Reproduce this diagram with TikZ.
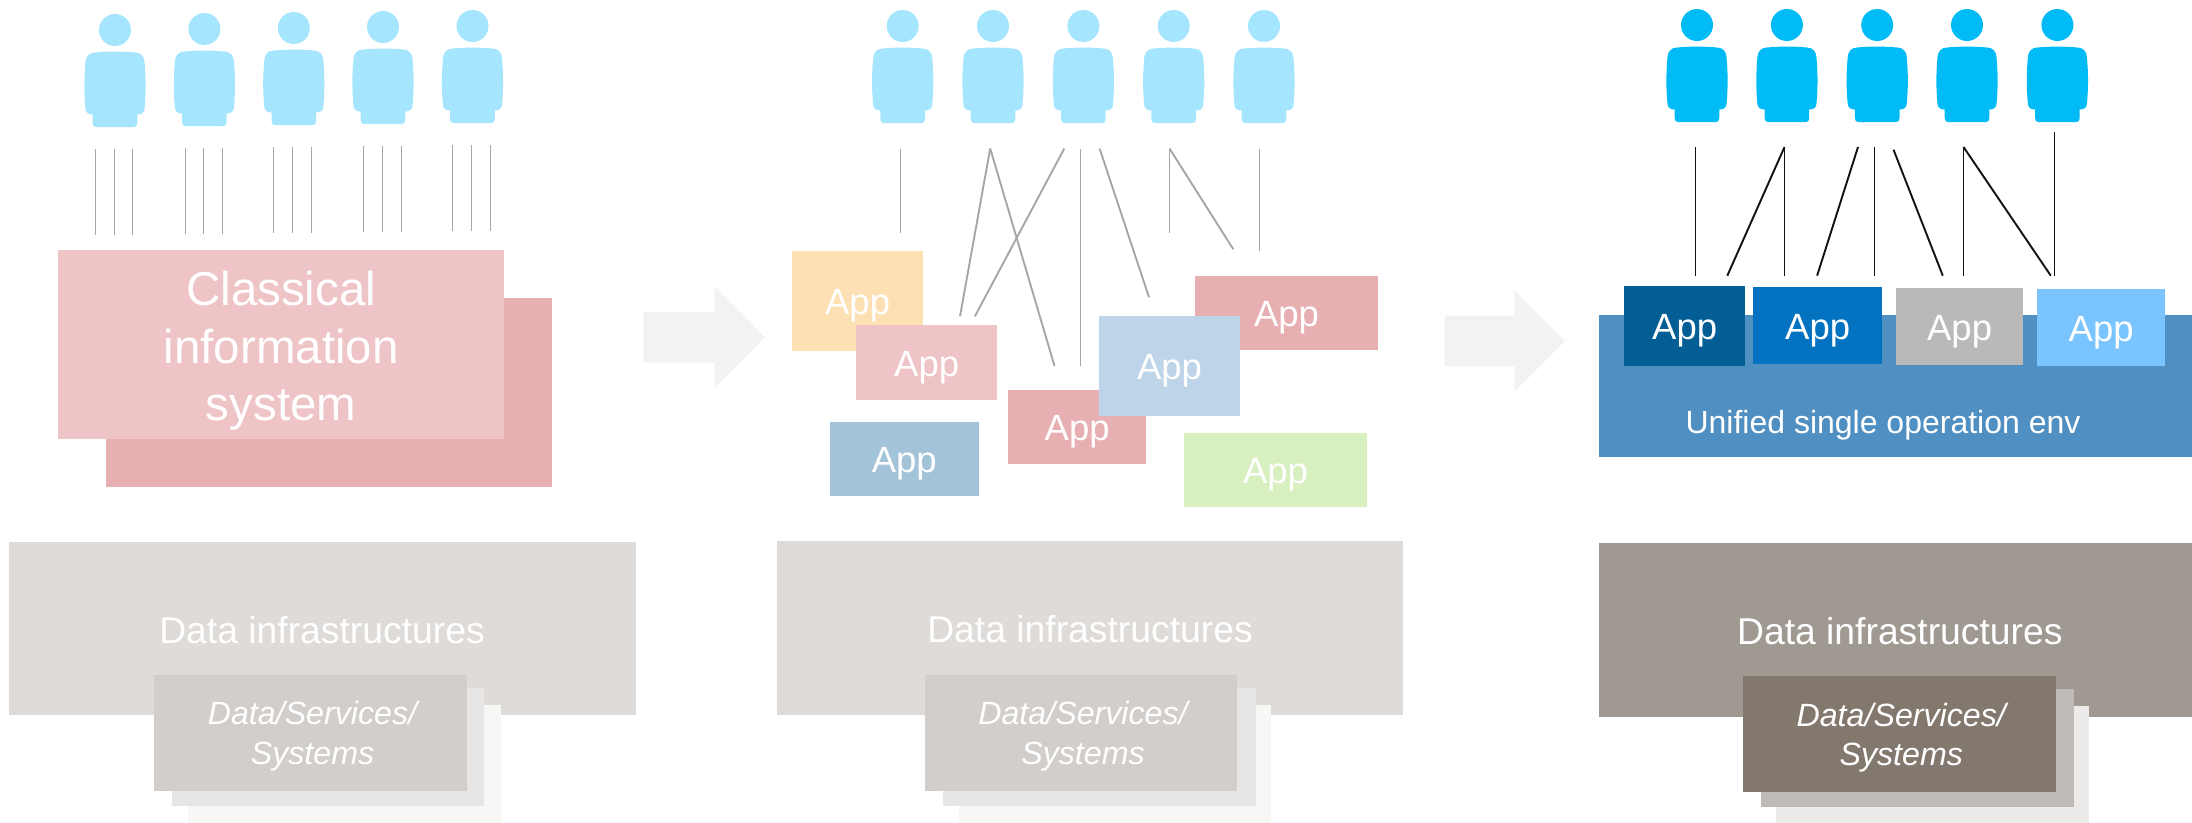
\documentclass[tikz,border=0pt]{standalone}
\usepackage{fontspec}
\setmainfont{Liberation Sans}
\usetikzlibrary{shapes,arrows,positioning,calc}

\definecolor{peoplelight}{HTML}{A5E6FE}
\definecolor{peoplefull}{HTML}{00BBF5}
\definecolor{wiregray}{HTML}{A6A6A6}
\definecolor{wireblack}{HTML}{111111}
\definecolor{pinklight}{HTML}{EEC4C6}
\definecolor{pinkdark}{HTML}{E8AFB2}
\definecolor{sandlight}{HTML}{FDE1B5}
\definecolor{bluelight}{HTML}{BED5E9}
\definecolor{tealmid}{HTML}{A3C3D8}
\definecolor{greenlight}{HTML}{D8EFC0}
\definecolor{navyapp}{HTML}{035E95}
\definecolor{blueapp}{HTML}{0272C1}
\definecolor{grayapp}{HTML}{B9B9B9}
\definecolor{skyapp}{HTML}{7AC5FF}
\definecolor{bandblue}{HTML}{4F8FC2}
\definecolor{infrapale}{HTML}{DEDBD8}
\definecolor{stackpaleA}{HTML}{D1CECB}
\definecolor{stackpaleB}{HTML}{E7E6E4}
\definecolor{stackpaleC}{HTML}{F7F7F5}
\definecolor{infrafull}{HTML}{A09991}
\definecolor{stackfullA}{HTML}{83786E}
\definecolor{stackfullB}{HTML}{BFBAB6}
\definecolor{stackfullC}{HTML}{ECEBE9}
\definecolor{arrowgray}{HTML}{F2F2F2}

\newcommand{\stacktext}{\hspace*{4pt}Data/Services/\\\hspace*{4pt}Systems}

\tikzset{
    person/.pic={
        \path[pic actions] (0,0) circle (16);
        \path[pic actions] (-20,22.5) .. controls (-8,21.3) and (8,21.3) .. (20,22.5)
            .. controls (26,22.5) and (29.3,27) .. (29.5,32)
            .. controls (31,50) and (31,62) .. (29.5,79)
            .. controls (29.3,83) and (26,84.5) .. (22.3,84.5)
            -- (22.3,93) .. controls (22.3,96) and (21,97) .. (19,97)
            -- (-19,97) .. controls (-21,97) and (-22.3,96) .. (-22.3,93)
            -- (-22.3,84.5) .. controls (-26,84.5) and (-29.3,83) .. (-29.5,79)
            .. controls (-31,62) and (-31,50) .. (-29.5,32)
            .. controls (-29.3,27) and (-26,22.5) .. (-20,22.5) -- cycle;
    }
}

\begin{document}
\begin{tikzpicture}[x=1pt, y=-1pt,
        block/.style={rectangle, anchor=north west, inner sep=0pt, outer sep=0pt, align=center, text=white},
        app/.style={block, text height=27.4pt, text depth=0pt, font=\fontsize{36.5}{36.5}\selectfont},
        stack/.style={block, text depth=0pt, font=\fontsize{32.2}{39.3}\selectfont\itshape},
        caption/.style={anchor=base, inner sep=0pt, text=white},
        wire/.style={line width=1.9pt},
        bigarrow/.style={fill=arrowgray}
    ]
        \useasboundingbox (0,0) rectangle (2192,822);

        \foreach \i/\x/\y in {1/115/30,2/204.4/29,3/293.8/28,4/383/27,5/472.5/26,
                6/902.7/26,7/993/26,8/1083.4/26,9/1173.7/26,10/1264/26}
            \pic[fill=peoplelight] (man\i) at (\x,\y) {person};
        \foreach \i/\x in {11/1697,12/1786.9,13/1877.2,14/1967,15/2057.4}
            \pic[fill=peoplefull] (man\i) at (\x,25) {person};

        \foreach \xa/\xb/\xc/\ya/\yb in {95.5/114.5/132.5/149.3/234.7,185.5/203.5/222.5/148.3/233.7,
                273.5/292.5/311.5/147.3/232.7,363.5/382.5/401.5/146.3/231.7,452.5/471.5/490.5/145.3/230.7}
            \foreach \x in {\xa,\xb,\xc} {
                \coordinate (top) at (\x,\ya);
                \coordinate (bot) at (\x,\yb);
                \draw[wire, wiregray] (top) -- (bot);
            }

        \foreach \xa/\ya/\xb/\yb in {900.5/148.5/900.5/232.7,990.2/148.5/960/316.3,990.2/148.5/1054.5/366,
                1064.3/148.5/974.9/316.3,1080.5/148.5/1080.5/366,1099.6/148.5/1149/297.3,
                1169.5/148.5/1169.5/233.3,1169.5/148.5/1233.3/249.3,1259.5/148.5/1259.5/251} {
            \coordinate (top) at (\xa,\ya);
            \coordinate (bot) at (\xb,\yb);
            \draw[wire, wiregray] (top) -- (bot);
        }

        \foreach \xa/\ya/\xb/\yb in {1695.5/147/1695.5/275.7,1784.5/147/1784.5/275.7,1784.5/147/1727.3/275.7,
                1858/147/1817.1/275.7,1874.5/147/1874.5/275.7,1893.5/149.7/1942.8/275.7,
                1963.5/147/1963.5/275.7,1963.5/147/2050.8/275.7,2054.5/131.7/2054.5/275.7} {
            \coordinate (top) at (\xa,\ya);
            \coordinate (bot) at (\xb,\yb);
            \draw[wire, wireblack] (top) -- (bot);
        }

        \node[block, fill=pinkdark, minimum width=446pt, minimum height=189pt] (sysback) at (106,297.5) {};
        \node[block, text depth=0pt, fill=pinklight, minimum width=446pt, minimum height=189pt,
            font=\fontsize{47.5}{57.5}\selectfont] (sysfront) at (58.2,250) {\rule{0pt}{37pt}Classical\\information\\system};

        \foreach \name/\xa/\ya/\xb/\yb/\col in {appa/792/251/923.2/350.7/sandlight,appb/856.2/325/997.2/400/pinklight,
                appc/1008/390/1146.4/464/pinkdark,appd/1195/276/1378/350/pinkdark,appe/1099.2/316/1239.8/415.7/bluelight,
                appf/830/422/978.6/496/tealmid,appg/1184/433/1367/507/greenlight}
            \node[app, fill=\col, minimum width={(\xb-\xa)*1pt}, minimum height={(\yb-\ya)*1pt}] (\name) at (\xa,\ya) {App};

        \node[block, fill=bandblue, minimum width=593.3pt, minimum height=142pt] (band) at (1598.7,315) {};
        \node[caption, font=\fontsize{32}{32}\selectfont] (bandtext) at (1883,433) {Unified single operation env};
        \foreach \name/\xa/\ya/\xb/\yb/\col in {apph/1624.4/286/1745/366/navyapp,appi/1753.4/287/1881.9/364/blueapp,
                appj/1895.8/288/2023.4/365/grayapp,appk/2037.3/289/2164.9/366/skyapp}
            \node[app, fill=\col, minimum width={(\xb-\xa)*1pt}, minimum height={(\yb-\ya)*1pt}] (\name) at (\xa,\ya) {App};

        \draw[draw=none, bigarrow] (643.4,312) -- (714.6,312) -- (714.6,286.7) -- (765,337.3)
            -- (714.6,387.7) -- (714.6,362.7) -- (643.4,362.7) -- cycle;
        \draw[draw=none, bigarrow] (1444.6,315.7) -- (1514.5,315.7) -- (1514.5,290.7) -- (1565.2,341)
            -- (1514.5,391.7) -- (1514.5,366.7) -- (1444.6,366.7) -- cycle;

        \node[block, fill=infrapale, minimum width=627.2pt, minimum height=173pt] (infraa) at (8.8,542) {};
        \node[block, fill=infrapale, minimum width=626.2pt, minimum height=174pt] (infrab) at (777,541) {};
        \node[block, fill=infrafull, minimum width=593.3pt, minimum height=174pt] (infrac) at (1598.7,543) {};
        \node[caption, font=\fontsize{37.3}{37.3}\selectfont] (infratexta) at (322,643.3) {Data infrastructures};
        \node[caption, font=\fontsize{37.3}{37.3}\selectfont] (infratextb) at (1090,642.3) {Data infrastructures};
        \node[caption, font=\fontsize{37.3}{37.3}\selectfont] (infratextc) at (1899.8,644.3) {Data infrastructures};

        \foreach \name/\x/\y/\col in {stackac/188/705/stackpaleC,stackab/171.8/688/stackpaleB,
                stackbc/958.5/705/stackpaleC,stackbb/943.2/688/stackpaleB,
                stackcc/1776/706/stackfullC,stackcb/1761/689/stackfullB}
            \node[block, fill=\col, minimum width=312.5pt, minimum height=118pt] (\name) at (\x,\y) {};

        \node[stack, fill=stackpaleA, minimum width=313pt, minimum height=115.7pt] (stackaa) at (154,675) {\stacktext};
        \node[stack, fill=stackpaleA, minimum width=312pt, minimum height=115.7pt] (stackba) at (925,675) {\stacktext};
        \node[stack, fill=stackfullA, minimum width=312.5pt, minimum height=116pt] (stackca) at (1743,676) {\stacktext};
    \end{tikzpicture}
\end{document}
